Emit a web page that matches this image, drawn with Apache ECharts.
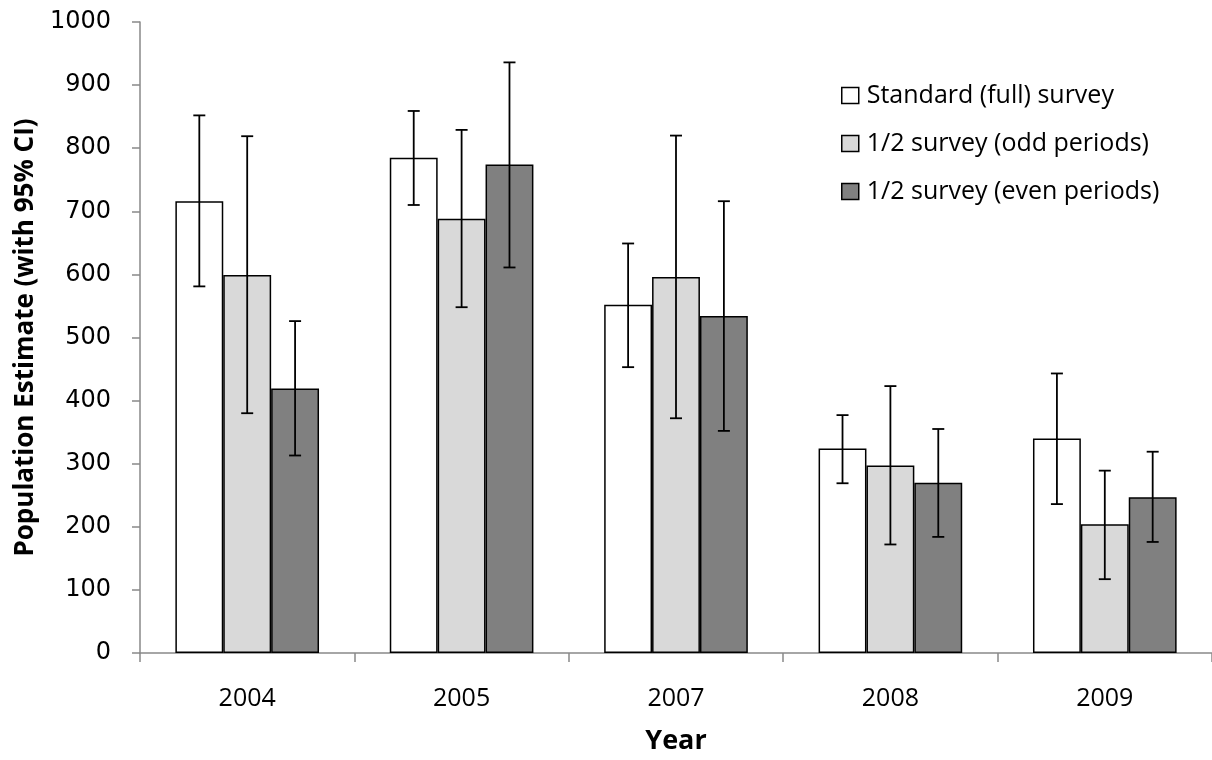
<!DOCTYPE html>
<html>
<head>
<meta charset="utf-8">
<script src="https://cdn.jsdelivr.net/npm/echarts@6/dist/echarts.min.js"></script>
<style>
html,body{margin:0;padding:0;background:#fff;overflow:hidden;}
#chart{width:1212px;height:760px;}
</style>
</head>
<body>
<div id="chart"></div>
<script>
const years = ['2004', '2005', '2007', '2008', '2009'];
const seriesNames = ['Standard (full) survey', '1/2 survey (odd periods)', '1/2 survey (even periods)'];
const standardVals = [716, 785, 552, 324, 340];
const standardLow  = [581, 710, 453, 269, 236];
const standardHigh = [852, 859, 649, 377, 443];
const oddVals  = [599, 688, 596, 297, 204];
const oddLow   = [380, 548, 372, 172, 117];
const oddHigh  = [819, 829, 820, 423, 289];
const evenVals = [419, 774, 534, 270, 247];
const evenLow  = [313, 611, 352, 184, 176];
const evenHigh = [526, 936, 716, 355, 319];
const yTicks = { min: 0, max: 1000, interval: 100 };

const fills = ['#ffffff', '#d9d9d9', '#808080'];
const allVals = [standardVals, oddVals, evenVals];
const allLow = [standardLow, oddLow, evenLow];
const allHigh = [standardHigh, oddHigh, evenHigh];
const catGap = 0.33;

const chart = echarts.init(document.getElementById('chart'));
const series = [];
allVals.forEach((vals, k) => {
  series.push({
    name: seriesNames[k],
    type: 'bar',
    data: vals,
    barGap: '0%',
    barCategoryGap: (catGap * 100) + '%',
    itemStyle: { color: fills[k], borderColor: '#000', borderWidth: 1.5 },
    emphasis: { disabled: true }
  });
});
allVals.forEach((vals, k) => {
  series.push({
    type: 'custom',
    name: seriesNames[k] + ' CI',
    silent: true,
    z: 5,
    data: years.map((y, i) => [i, allLow[k][i], allHigh[k][i]]),
    renderItem: function (params, api) {
      const i = api.value(0);
      const band = api.size([1, 0])[0];
      const bw = band * (1 - catGap) / 3;
      const off = (k - 1) * bw;
      const lo = api.coord([i, api.value(1)]);
      const hi = api.coord([i, api.value(2)]);
      const x = lo[0] + off;
      const cap = 6;
      const st = { stroke: '#000', lineWidth: 1.8 };
      return {
        type: 'group',
        children: [
          { type: 'line', shape: { x1: x, y1: lo[1], x2: x, y2: hi[1] }, style: st },
          { type: 'line', shape: { x1: x - cap, y1: lo[1], x2: x + cap, y2: lo[1] }, style: st },
          { type: 'line', shape: { x1: x - cap, y1: hi[1], x2: x + cap, y2: hi[1] }, style: st }
        ]
      };
    }
  });
});

chart.setOption({
  animation: false,
  backgroundColor: '#fff',
  grid: { left: 140, width: 1076, top: 22, height: 635, containLabel: false },
  legend: {
    data: seriesNames,
    orient: 'vertical',
    left: 836,
    top: 78,
    itemWidth: 17,
    itemHeight: 16,
    itemGap: 23,
    icon: 'rect',
    itemStyle: { borderColor: '#000', borderWidth: 1.5 },
    textStyle: { fontFamily: 'Open Sans', fontSize: 25, color: '#000', padding: [0, 0, 0, 3] }
  },
  xAxis: {
    type: 'category',
    data: years,
    name: 'Year',
    nameLocation: 'middle',
    nameGap: 75,
    nameTextStyle: { fontFamily: 'Open Sans', fontWeight: 'bold', fontSize: 27, color: '#000' },
    axisLine: { lineStyle: { color: '#898989', width: 1.5 } },
    axisTick: { show: true, length: 9, lineStyle: { color: '#898989', width: 1.5 } },
    axisLabel: { fontFamily: 'Open Sans', fontSize: 25, color: '#000', margin: 33 }
  },
  yAxis: {
    type: 'value',
    min: yTicks.min,
    max: yTicks.max,
    interval: yTicks.interval,
    name: 'Population Estimate (with 95% CI)',
    nameLocation: 'middle',
    nameGap: 96,
    nameTextStyle: { fontFamily: 'Open Sans', fontWeight: 'bold', fontSize: 26, color: '#000' },
    splitLine: { show: false },
    axisLine: { show: true, lineStyle: { color: '#898989', width: 1.5 } },
    axisTick: { show: true, length: 8, lineStyle: { color: '#898989', width: 1.5 } },
    axisLabel: { fontFamily: 'DejaVu Sans', fontSize: 24, color: '#000', margin: 29, formatter: function (v) { return String(v); } }
  },
  series: series
});
</script>
</body>
</html>
